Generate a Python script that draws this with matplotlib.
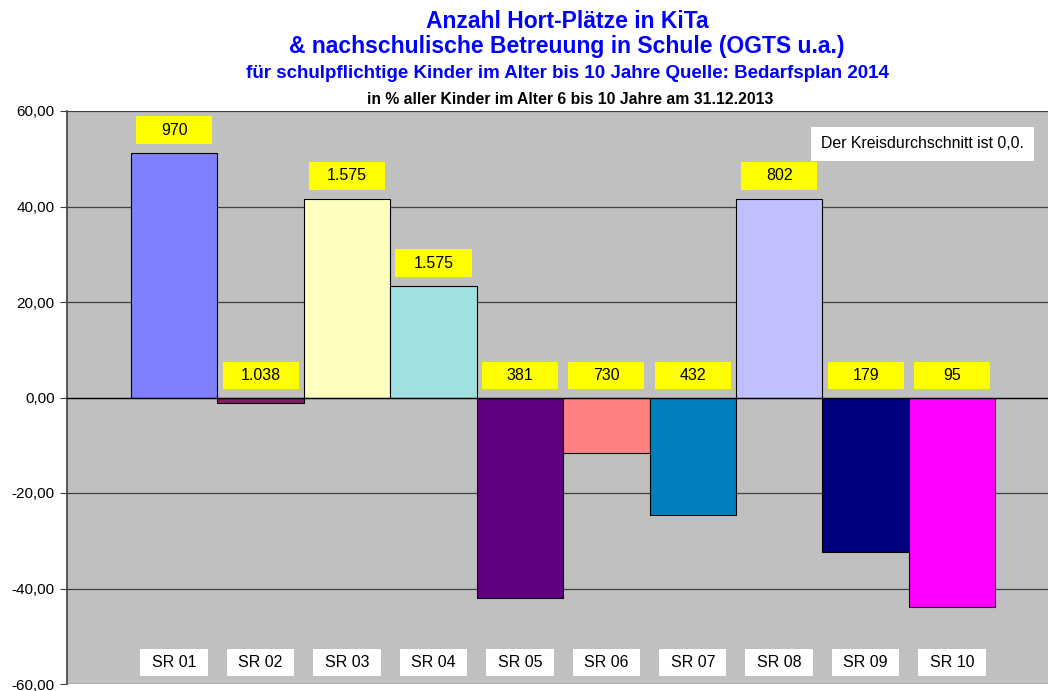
import matplotlib
matplotlib.use("Agg")
import matplotlib.pyplot as plt
from matplotlib.patches import Rectangle

plt.rcParams['font.family'] = ['Liberation Sans', 'DejaVu Sans']

categories = ["SR 01", "SR 02", "SR 03", "SR 04", "SR 05", "SR 06", "SR 07", "SR 08", "SR 09", "SR 10"]
values = [51.2, -1.1, 41.6, 23.3, -41.9, -11.7, -24.6, 41.6, -32.4, -43.9]
counts = ["970", "1.038", "1.575", "1.575", "381", "730", "432", "802", "179", "95"]
colors = ["#8080FF", "#802060", "#FFFFC0", "#A0E0E0", "#600080", "#FF8080",
          "#0080C0", "#C0C0FF", "#000080", "#FF00FF"]
yticks = [60, 40, 20, 0, -20, -40, -60]

fig = plt.figure(figsize=(10.5, 6.91), dpi=100)
ax = fig.add_axes([67/1050, 1-684/691, (1048-67)/1050, (684-111)/691])
ax.set_facecolor("#C0C0C0")

x = list(range(len(categories)))
ax.bar(x, values, width=1.0, color=colors, edgecolor="black", linewidth=0.8, zorder=3)

ax.set_xlim(-1.24, 10.11)
ax.set_ylim(-60, 60)
ax.set_yticks(yticks)
ax.set_yticklabels([f"{v:.2f}".replace(".", ",") for v in yticks], fontsize=11)
ax.tick_params(axis='y', direction='out', length=5, width=0.8, color="#404040", pad=4)
ax.set_xticks([])
for yv in yticks:
    if yv != 0:
        ax.axhline(yv, color="#404040", linewidth=0.9, zorder=1)
ax.axhline(0, color="black", linewidth=1.0, zorder=4)

for s in ["top", "right", "bottom"]:
    ax.spines[s].set_visible(False)
ax.spines["left"].set_color("#404040")
ax.spines["left"].set_linewidth(1.2)

# value labels (yellow boxes)
bw, bh = 0.88, 5.8
for xi, v, c in zip(x, values, counts):
    yc = (v + 4.8) if v > 0 else 4.6
    ax.add_patch(Rectangle((xi - bw/2, yc - bh/2), bw, bh, facecolor="#FFFF00",
                           edgecolor="none", zorder=5))
    ax.text(xi, yc, c, ha="center", va="center", fontsize=11.5, zorder=6)

# category labels (white boxes)
cw, ch = 0.78, 5.8
for xi, cat in zip(x, categories):
    yc = -55.5
    ax.add_patch(Rectangle((xi - cw/2, yc - ch/2), cw, ch, facecolor="white",
                           edgecolor="none", zorder=5))
    ax.text(xi, yc, cat, ha="center", va="center", fontsize=11.5, zorder=6)

# note box
fig.text(821/1050, 1-144/691, "Der Kreisdurchschnitt ist 0,0.", fontsize=11.4,
         ha="left", va="center",
         bbox=dict(facecolor="white", edgecolor="none", pad=7))

tx = 567/1050
fig.text(tx, 1-22/691, "Anzahl Hort-Plätze in KiTa", ha="center", va="center",
         fontsize=16.5, fontweight="bold", color="#0000FF")
fig.text(tx, 1-47/691, "& nachschulische Betreuung in Schule (OGTS u.a.)", ha="center",
         va="center", fontsize=16.5, fontweight="bold", color="#0000FF")
fig.text(tx, 1-73/691, "für schulpflichtige Kinder im Alter bis 10 Jahre Quelle: Bedarfsplan 2014",
         ha="center", va="center", fontsize=13.5, fontweight="bold", color="#0000FF")
fig.text(tx + 3/1050, 1-99/691, "in % aller Kinder im Alter 6 bis 10 Jahre am 31.12.2013",
         ha="center", va="center", fontsize=11.3, fontweight="bold", color="black")

fig.savefig("out.png", dpi=100)
